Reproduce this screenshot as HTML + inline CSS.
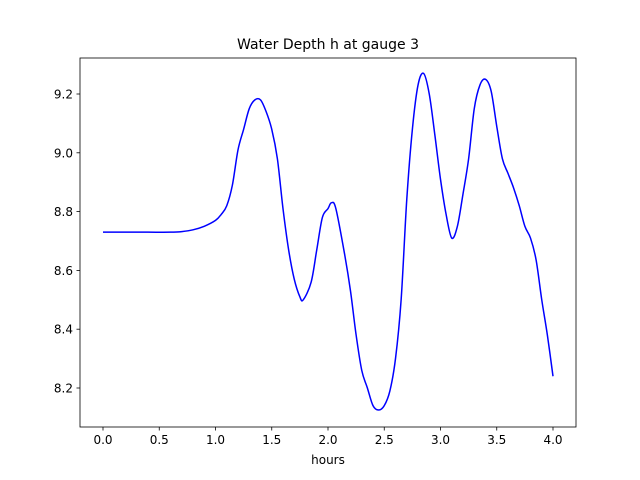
<!DOCTYPE html>
<html><head><meta charset="utf-8"><style>
body{margin:0;background:#fff}
svg{display:block;font-family:"DejaVu Sans","Liberation Sans",sans-serif}
</style></head><body>
<svg id="chart" width="640" height="480">
<rect width="640" height="480" fill="#fff"/>
<text x="328" y="49" font-size="14" text-anchor="middle">Water Depth h at gauge 3</text>
<g id="axes"></g>
<text x="328" y="464" font-size="12" text-anchor="middle">hours</text>
</svg>
<script>
const times=[0,0.2,0.4,0.6,0.7,0.8,0.9,1.0,1.05,1.1,1.15,1.2,1.25,1.3,1.35,1.4,1.45,1.5,1.55,1.6,1.65,1.7,1.75,1.78,1.85,1.9,1.95,2.0,2.03,2.07,2.15,2.2,2.25,2.3,2.35,2.4,2.45,2.5,2.55,2.6,2.65,2.7,2.75,2.8,2.85,2.9,2.95,3.0,3.05,3.1,3.15,3.2,3.25,3.3,3.35,3.4,3.45,3.5,3.55,3.6,3.65,3.7,3.75,3.8,3.85,3.9,3.95,4.0];
const depth=[8.73,8.73,8.73,8.73,8.732,8.738,8.75,8.77,8.79,8.82,8.89,9.01,9.08,9.15,9.18,9.18,9.14,9.08,8.98,8.81,8.67,8.57,8.51,8.50,8.56,8.67,8.78,8.81,8.83,8.81,8.65,8.53,8.38,8.26,8.20,8.14,8.125,8.14,8.19,8.30,8.50,8.84,9.08,9.23,9.27,9.20,9.06,8.91,8.79,8.71,8.75,8.86,8.98,9.15,9.23,9.25,9.21,9.09,8.98,8.93,8.88,8.82,8.75,8.71,8.635,8.50,8.38,8.24];
const xTicks=[0,0.5,1,1.5,2,2.5,3,3.5,4];
const yTicks=[8.2,8.4,8.6,8.8,9.0,9.2];
const L=80,R=576,T=58,B=427;
const xs=v=>103+v*112.5;
const ys=v=>388-(v-8.2)*294;
const ns="http://www.w3.org/2000/svg";
const g=document.getElementById('axes');
function mk(tag,attrs){const e=document.createElementNS(ns,tag);for(const k in attrs)e.setAttribute(k,attrs[k]);g.appendChild(e);return e;}
const P=times.map((t,i)=>[xs(t),ys(depth[i])]);
let d='M'+P[0][0].toFixed(2)+' '+P[0][1].toFixed(2);
for(let i=0;i<P.length-1;i++){
  const p0=P[Math.max(i-1,0)],p1=P[i],p2=P[i+1],p3=P[Math.min(i+2,P.length-1)];
  const c1=[p1[0]+(p2[0]-p0[0])/6,p1[1]+(p2[1]-p0[1])/6];
  const c2=[p2[0]-(p3[0]-p1[0])/6,p2[1]-(p3[1]-p1[1])/6];
  d+='C'+c1[0].toFixed(2)+' '+c1[1].toFixed(2)+' '+c2[0].toFixed(2)+' '+c2[1].toFixed(2)+' '+p2[0].toFixed(2)+' '+p2[1].toFixed(2);
}
const line=mk('path',{d:d,fill:'none',stroke:'#0000ff','stroke-width':1.5,'stroke-linejoin':'round'});


const frame=mk('rect',{x:L,y:T,width:R-L,height:B-T,fill:'none',stroke:'#000','stroke-width':0.8});


xTicks.forEach(v=>{
  const x=xs(v);
  const tk=mk('line',{x1:x,x2:x,y1:B,y2:B+3.5,stroke:'#000','stroke-width':0.8});
  
  
  const tx=mk('text',{x:x,y:B+17,'font-size':12,'text-anchor':'middle'});
  tx.textContent=v.toFixed(1);
  
  
});
yTicks.forEach(v=>{
  const y=ys(v);
  const tk=mk('line',{x1:L-3.5,x2:L,y1:y,y2:y,stroke:'#000','stroke-width':0.8});
  
  
  const tx=mk('text',{x:L-7,y:y+4.5,'font-size':12,'text-anchor':'end'});
  tx.textContent=v.toFixed(1);
  
  
});
</script>
</body></html>
